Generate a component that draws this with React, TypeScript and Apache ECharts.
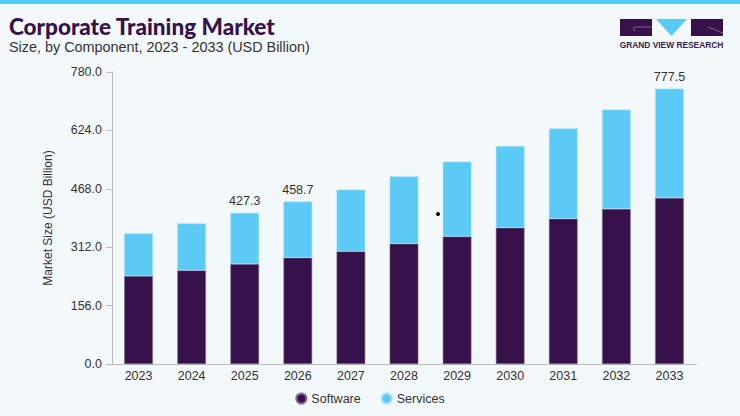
import React, { useEffect, useRef } from "react";
import * as echarts from "echarts";

const years = ["2023", "2024", "2025", "2026", "2027", "2028", "2029", "2030", "2031", "2032", "2033"];
const software = [235, 250.2, 267, 284, 300.8, 321.3, 340.7, 363.9, 387.9, 414.5, 443.8];
const services = [113.7, 125.1, 136.8, 149.9, 165.1, 180, 199.7, 218.3, 241.1, 265.1, 291.7];
const totalLabels = ["", "", "427.3", "458.7", "", "", "", "", "", "", "777.5"];
const yTicks = [0, 156, 312, 468, 624, 780];

const PURPLE = "#371149";
const BLUE = "#5bcaf6";

export default function App() {
  const ref = useRef<HTMLDivElement>(null);
  useEffect(() => {
    document.body.style.margin = "0";
    const chart = echarts.init(ref.current!, null, { renderer: "svg" });
    chart.setOption({
      animation: false,
      backgroundColor: "#f3f8fb",
      textStyle: { fontFamily: "Liberation Sans, Arial, sans-serif" },
      grid: { left: 112, right: 44, top: 72, bottom: 52 },
      legend: {
        data: ["Software", "Services"],
        left: "center",
        top: 387,
        icon: "circle",
        itemWidth: 10,
        itemHeight: 10,
        itemGap: 20,
        textStyle: { fontSize: 12.5, color: "#333" },
      },
      xAxis: {
        type: "category",
        data: years,
        axisLine: { lineStyle: { color: "#bbbbbb", width: 1 } },
        axisTick: { show: false },
        axisLabel: { fontSize: 12.5, color: "#333", margin: 5 },
      },
      yAxis: {
        type: "value",
        min: yTicks[0],
        max: yTicks[yTicks.length - 1],
        interval: 156,
        name: "Market Size (USD Billion)",
        nameLocation: "middle",
        nameGap: 58,
        nameTextStyle: { fontSize: 12, color: "#333" },
        axisLine: { show: true, lineStyle: { color: "#bbbbbb", width: 1 } },
        axisTick: { show: true, length: 6, lineStyle: { color: "#bbbbbb" } },
        splitLine: { show: false },
        axisLabel: {
          fontSize: 12.5,
          color: "#333",
          margin: 10,
          formatter: (v: number) => v.toFixed(1),
        },
      },
      series: [
        {
          name: "Software",
          type: "bar",
          stack: "total",
          data: software,
          barWidth: "54%",
          itemStyle: { color: PURPLE, borderColor: "#7d6a8c", borderWidth: 0.6 },
        },
        {
          name: "Services",
          type: "bar",
          stack: "total",
          data: services,
          barWidth: "54%",
          itemStyle: { color: BLUE, borderColor: "#9ee0fa", borderWidth: 0.6 },
          label: {
            show: true,
            position: "top",
            distance: 5,
            fontSize: 12.5,
            color: "#333",
            formatter: (p: any) => totalLabels[p.dataIndex],
          },
        },
      ],
      graphic: [
        { type: "rect", left: 0, top: 0, shape: { width: 740, height: 4 }, style: { fill: BLUE } },
        {
          type: "text",
          left: 9,
          top: 15,
          style: {
            text: "Corporate Training Market",
            fontSize: 22.5,
            fontWeight: 900,
            fontFamily: "Lato, Roboto, sans-serif",
            fill: PURPLE,
          },
        },
        {
          type: "text",
          left: 9,
          top: 40,
          style: {
            text: "Size, by Component, 2023 - 2033 (USD Billion)",
            fontSize: 14.4,
            fontFamily: "Liberation Sans, Arial, sans-serif",
            fill: "#333",
          },
        },
        { type: "rect", shape: { x: 620, y: 19, width: 32, height: 17 }, style: { fill: PURPLE } },
        { type: "line", shape: { x1: 634, y1: 27, x2: 652, y2: 27 }, style: { stroke: "#8a7898", lineWidth: 0.8 } },
        { type: "line", shape: { x1: 634, y1: 27, x2: 634, y2: 31 }, style: { stroke: "#8a7898", lineWidth: 0.8 } },
        { type: "polygon", shape: { points: [[656, 19], [687, 19], [671.5, 36]] }, style: { fill: BLUE } },
        { type: "rect", shape: { x: 691, y: 19, width: 32, height: 17 }, style: { fill: PURPLE } },
        { type: "line", shape: { x1: 708, y1: 27, x2: 723, y2: 33 }, style: { stroke: "#8a7898", lineWidth: 0.8 } },
        {
          type: "text",
          x: 671.5,
          y: 44.5,
          style: {
            text: "GRAND VIEW RESEARCH",
            fontSize: 8.4,
            fontWeight: "bold",
            fontFamily: "Liberation Sans, Arial, sans-serif",
            fill: "#3b1d4f",
            align: "center",
            verticalAlign: "middle",
          },
        },
        { type: "circle", shape: { cx: 438, cy: 214, r: 2 }, style: { fill: "#000" } },
      ],
    });
    return () => chart.dispose();
  }, []);
  return <div ref={ref} style={{ width: 740, height: 416 }} />;
}
